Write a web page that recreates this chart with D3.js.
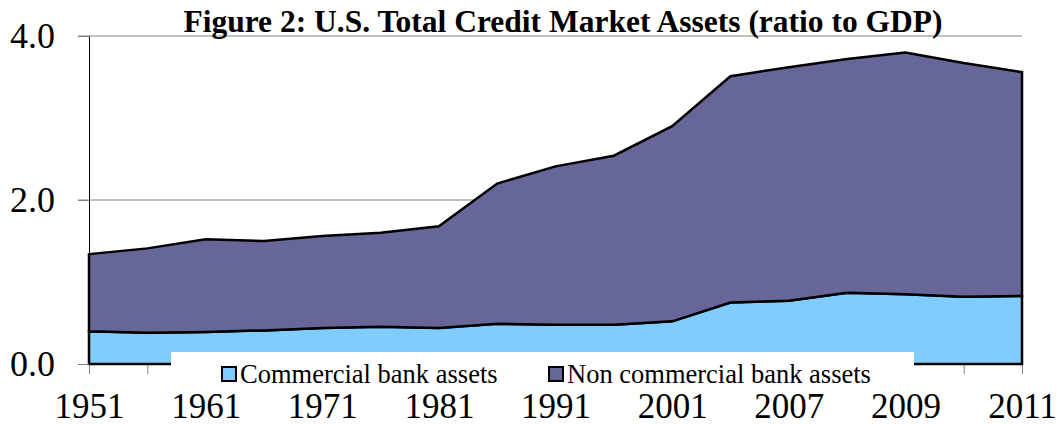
<!DOCTYPE html>
<html><head><meta charset="utf-8">
<script src="https://cdn.jsdelivr.net/npm/d3@7"></script>
<style>
body{margin:0;background:#fff}
svg{display:block}
text{font-family:"Liberation Serif","Times New Roman",serif;fill:#000}
</style>
</head><body><svg id="c" width="1058" height="425"></svg>
<script>
const years = ["1951","1956","1961","1966","1971","1976","1981","1986","1991","1996","2001","2004","2007","2008","2009","2010","2011"];
const tickLabels = ["1951","1961","1971","1981","1991","2001","2007","2009","2011"];
const commercial = [0.40,0.38,0.39,0.41,0.44,0.455,0.44,0.49,0.48,0.48,0.52,0.75,0.77,0.87,0.85,0.82,0.83];
const nonCommercial = [0.94,1.03,1.13,1.09,1.12,1.145,1.24,1.71,1.93,2.06,2.38,2.76,2.85,2.85,2.95,2.85,2.73];
const yTicks = [0,2,4];
const seriesNames = ["Commercial bank assets","Non commercial bank assets"];
const seriesColors = ["#80CCFF","#666699"];
const title = "Figure 2: U.S. Total Credit Market Assets (ratio to GDP)";

const svg = d3.select("#c");
const m = {l:89, r:1022, t:36, b:364};
const x = d3.scalePoint().domain(years).range([m.l, m.r]);
const y = d3.scaleLinear().domain([0,4]).range([m.b, m.t]);

const rows = years.map((yr,i)=>({year:yr, c:commercial[i], n:nonCommercial[i]}));
const stacked = d3.stack().keys(["c","n"])(rows);

// gridlines
svg.append("g").selectAll("line").data(yTicks.filter(d=>d>0)).join("line")
  .attr("x1", m.l-11).attr("x2", m.r)
  .attr("y1", d=>y(d)).attr("y2", d=>y(d))
  .attr("stroke","#808080").attr("stroke-width",1);

// x axis
const tickSet = new Set(tickLabels);
const xAxis = svg.append("g").attr("transform",`translate(0,${m.b})`)
  .call(d3.axisBottom(x).tickValues(years).tickSize(10).tickSizeOuter(0).tickPadding(19)
    .tickFormat(d=>tickSet.has(d)?d:""));
xAxis.selectAll("line").attr("stroke","#808080");
xAxis.select(".domain").attr("stroke","#808080");
xAxis.selectAll("text").style("font-size","35px");

// areas
const area = d3.area().x(d=>x(d.data.year)).y0(d=>y(d[0])).y1(d=>y(d[1]));
svg.append("g").selectAll("path").data(stacked).join("path")
  .attr("d", area)
  .attr("fill",(d,i)=>seriesColors[i])
  .attr("stroke","#000").attr("stroke-width",2.5).attr("stroke-linejoin","miter");

// y axis
const yAxis = svg.append("g").attr("transform",`translate(${m.l},0)`)
  .call(d3.axisLeft(y).tickValues(yTicks).tickSize(11).tickSizeOuter(0).tickPadding(23)
    .tickFormat(d3.format(".1f")));
yAxis.selectAll("line").attr("stroke","#808080");
yAxis.select(".domain").attr("stroke","#000");
yAxis.selectAll("text").style("font-size","36px");

// title
svg.append("text").attr("x",563).attr("y",32).attr("text-anchor","middle")
  .style("font-size","31.5px").style("font-weight","bold").text(title);

// legend
const lg = svg.append("g");
lg.append("rect").attr("x",171).attr("y",352).attr("width",743).attr("height",38).attr("fill","#fff");
const lx = [222,549];
seriesNames.forEach((s,i)=>{
  lg.append("rect").attr("x",lx[i]).attr("y",367).attr("width",14).attr("height",14)
    .attr("fill",seriesColors[i]).attr("stroke","#000").attr("stroke-width",2);
  lg.append("text").attr("x",lx[i]+18).attr("y",383).style("font-size","26.5px").text(s);
});
</script></body></html>
